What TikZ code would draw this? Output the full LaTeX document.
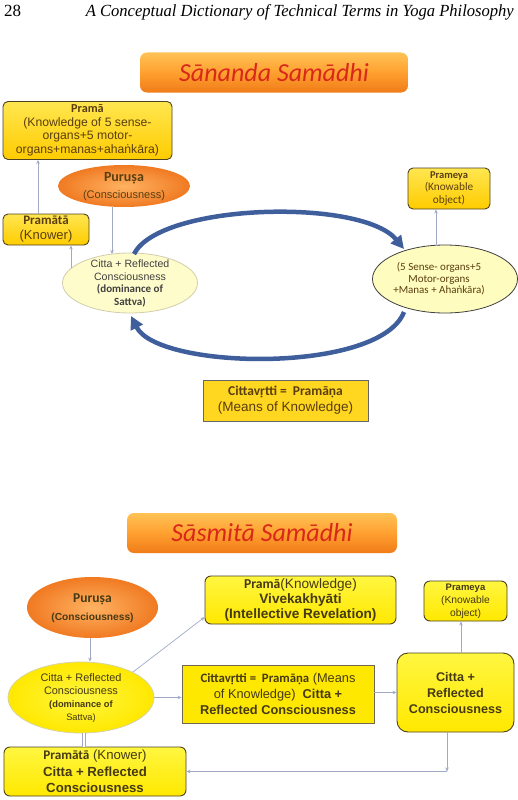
\documentclass[tikz,border=0pt]{standalone}
\usepackage{fontspec}
\setmainfont{Liberation Sans}
\newfontfamily\calib{Carlito}
\newfontfamily\hdfont{Liberation Serif}
\usetikzlibrary{shapes.geometric,arrows.meta,calc}
\definecolor{orT}{HTML}{FFC255}
\definecolor{orM}{HTML}{FFA030}
\definecolor{orB}{HTML}{F07C18}
\definecolor{titleRed}{HTML}{D8281A}
\definecolor{yaT}{HTML}{FFE650}
\definecolor{yaB}{HTML}{FFCC00}
\definecolor{ybT}{HTML}{FFF640}
\definecolor{ybB}{HTML}{FFE800}
\definecolor{bord}{HTML}{4E4222}
\definecolor{txtA}{HTML}{5A3E10}
\definecolor{txtB}{HTML}{453A14}
\definecolor{conn}{HTML}{A0AAC4}
\definecolor{arcblue}{HTML}{3F5E9C}
\definecolor{puIn}{HTML}{FFB262}
\definecolor{puOut}{HTML}{F07A22}
\begin{document}
\begin{tikzpicture}[x=1pt,y=-1pt,
  title/.style={rounded corners=7pt, minimum width=#1, minimum height=40pt, inner sep=0pt,
    top color=orT, bottom color=orB, middle color=orM, text=titleRed,
    font=\calib\itshape\fontsize{26}{26}\selectfont},
  boxa/.style={rounded corners=5pt, draw=bord, line width=0.9pt, top color=yaT, bottom color=yaB,
    align=center, inner sep=0pt, text=txtA},
  boxb/.style={rounded corners=6pt, draw=bord, line width=0.9pt, top color=ybT, bottom color=ybB,
    align=center, inner sep=0pt, text=txtB},
  sqa/.style={draw=gray!80!black, line width=0.8pt, fill=yaB!60!yaT, align=center, inner sep=0pt, text=txtA},
  sqb/.style={draw=bord!80, line width=0.9pt, fill=ybB, align=center, inner sep=0pt, text=txtB},
  puru/.style={ellipse, inner sep=0pt, inner color=puIn, outer color=puOut},
  txt/.style={align=center, inner sep=0pt},
  cn/.style={draw=conn, line width=0.7pt, -{Stealth[length=4pt,width=3.5pt]}},
  bigarc/.style={draw=arcblue, line width=4.5pt, -{Triangle[length=13pt,width=13pt]}}
]
\path[use as bounding box, fill=white] (0,0) rectangle (517,800);

% header
\node[anchor=base west, inner sep=0pt] (pg) at (4,17) {\hdfont\fontsize{17}{17}\selectfont 28};
\node[anchor=base east, inner sep=0pt] (hd) at (514,17) {\resizebox{428pt}{\height}{\hdfont\itshape\fontsize{17}{17}\selectfont A Conceptual Dictionary of Technical Terms in Yoga Philosophy}};

% ===== Sananda =====
\node[title=268pt] (t1) at (274,72.5) {Sānanda Samādhi};

\node[boxa, minimum width=169pt, minimum height=58pt, font=\fontsize{12.2}{13.6}\selectfont] (pm1) at (87.5,130.5)
  {{\calib\bfseries Pramā}\\(Knowledge of 5 sense-\\organs+5 motor-\\organs+manas+ahaṅkāra)};

\node[puru, minimum width=132pt, minimum height=42pt] (pu1) at (124,186) {};
\node[txt, text=txtA, font=\fontsize{11}{17}\selectfont] (pu1t) at (124,187) {{\calib\bfseries\fontsize{14}{17}\selectfont Puruṣa}\\(Consciousness)};

\node[boxa, minimum width=86pt, minimum height=31pt, font=\fontsize{13}{15}\selectfont] (pt1) at (46,229.5)
  {{\calib\bfseries Pramātā}\\(Knower)};

\node[ellipse, minimum width=135pt, minimum height=60pt, fill=yellow!20, draw=yellow!30!gray!60, line width=0.8pt, inner sep=0pt] (c1) at (130,283) {};
\node[txt, text=black!75, font=\fontsize{10.6}{12.7}\selectfont] (c1t) at (130,283.5)
  {Citta + Reflected\\Consciousness\\{\calib\bfseries\fontsize{11}{12.7}\selectfont (dominance of}\\{\calib\bfseries\fontsize{11}{12.7}\selectfont Sattva)}};

\node[ellipse, minimum width=145pt, minimum height=68pt, fill=yellow!25, draw=black!75, line width=0.8pt, inner sep=0pt] (re) at (445,279) {};
\node[txt, text=txtA, font=\calib\fontsize{11}{11.3}\selectfont] (ret) at (439,279)
  {(5 Sense- organs+5\\Motor-organs\\+Manas + Ahaṅkāra)};

\node[boxa, minimum width=82pt, minimum height=41pt, font=\calib\fontsize{11.3}{12.5}\selectfont] (pm1b) at (449,188.5)
  {{\bfseries\fontsize{10.5}{12.5}\selectfont Prameya}\\(Knowable\\object)};

\node[sqa, minimum width=165pt, minimum height=41pt, font=\fontsize{13.5}{16}\selectfont] (cv1) at (285.5,400.5)
  {{\calib\bfseries\fontsize{13.5}{16}\selectfont Cittavṛtti =\ \ Pramāṇa}\\(Means of Knowledge)};

% connectors section 1
\coordinate (a1) at (38,0);
\draw[cn] (a1 |- pt1.north) -- (a1 |- pm1.south);
\coordinate (a2s) at (112,206.5);
\coordinate (a2e) at (112,254);
\draw[cn] (a2s) -- (a2e);
\coordinate (a3) at (71,268);
\draw[cn] (a3) -- (a3 |- pt1.south);
\coordinate (a4) at (436,245.5);
\draw[cn] (a4) -- (a4 |- pm1b.south);

% big arcs
\coordinate (arc1s) at (134,254);
\coordinate (arc1e) at (404,249);
\coordinate (arc2s) at (404,312);
\coordinate (arc2e) at (131,316);
\draw[bigarc] (arc1s) .. controls (160,203) and (362,198) .. (arc1e);
\draw[bigarc] (arc2s) .. controls (380,374) and (158,370) .. (arc2e);

% ===== Sasmita =====
\node[title=270pt] (t2) at (262,533) {Sāsmitā Samādhi};

\node[puru, minimum width=131pt, minimum height=61pt] (pu2) at (92.5,607.5) {};
\node[txt, text=txtB, font=\bfseries\fontsize{10.2}{18}\selectfont] (pu2t) at (92.5,608)
  {{\calib\fontsize{13.5}{18}\selectfont Puruṣa}\\(Consciousness)};

\node[boxb, minimum width=191pt, minimum height=48pt, font=\bfseries\fontsize{13.6}{15}\selectfont] (p2) at (300.5,600)
  {{\calib Pramā}{\mdseries(Knowledge)}\\Vivekakhyāti\\(Intellective Revelation)};

\node[boxb, minimum width=83pt, minimum height=40pt, font=\fontsize{10.3}{13}\selectfont] (pm2) at (465.5,601)
  {{\bfseries\fontsize{9.5}{13}\selectfont Prameya}\\(Knowable\\object)};

\node[boxb, rounded corners=11pt, minimum width=117pt, minimum height=79pt, font=\bfseries\fontsize{12.6}{16}\selectfont] (cb) at (455.5,692.5)
  {Citta +\\Reflected\\Consciousness};

\node[sqb, minimum width=192pt, minimum height=58pt, font=\fontsize{12.8}{16}\selectfont] (cv2) at (278,694)
  {{\calib\bfseries Cittavṛtti =\ \ Pramāṇa} (Means\\of Knowledge)\ \ \textbf{Citta +}\\\textbf{Reflected Consciousness}};

\node[ellipse, minimum width=146pt, minimum height=71pt, inner color=ybT, outer color=ybB, draw=yellow!40!gray!60, line width=0.8pt, inner sep=0pt] (c2) at (81,697.5) {};
\node[txt, text=txtB, font=\fontsize{10.9}{13}\selectfont] (c2t) at (81,698)
  {Citta + Reflected\\Consciousness\\{\bfseries\fontsize{9.3}{13}\selectfont (dominance of}\\{\fontsize{9.3}{13}\selectfont Sattva)}};

\node[boxb, minimum width=182pt, minimum height=49pt, font=\bfseries\fontsize{13.2}{16.5}\selectfont] (pr2) at (95,771.5)
  {{\calib Pramātā}{\mdseries\ (Knower)}\\Citta + Reflected\\Consciousness};

% connectors section 2
\coordinate (b1) at (90,0);
\draw[cn] (b1 |- pu2.south) -- (b1 |- c2.north);
\draw[cn] (c2.north east) -- ($(p2.south west)!0.15!(p2.north west)$);
\draw[cn] (c2.east) -- (c2.east -| cv2.west);
\draw[cn] (cv2.east |- cb.west) -- (cb.west);
\coordinate (ca) at (461,0);
\draw[cn] (ca |- cb.north) -- (ca |- pm2.south);
\coordinate (k) at (447,771.5);
\draw[cn] (k |- cb.south) -- (k);
\draw[cn] (k) -- (pr2.east);
\coordinate (d1) at (84,733);
\draw[draw=conn, line width=0.6pt, double, double distance=2.4pt] (d1) -- (d1 |- pr2.north);
\end{tikzpicture}
\end{document}
